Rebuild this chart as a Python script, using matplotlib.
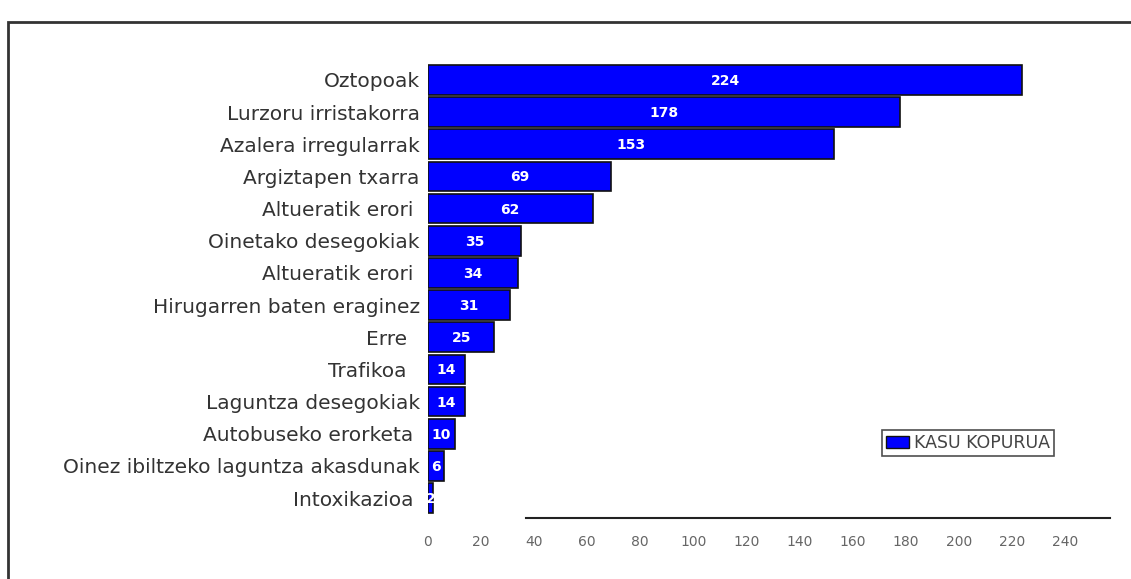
import matplotlib as mpl
mpl.use("Agg")
import matplotlib.pyplot as plt
from matplotlib.patches import Rectangle, Patch
import numpy as np

categorias = [
    "Oztopoak",
    "Lurzoru irristakorra",
    "Azalera irregularrak",
    "Argiztapen txarra",
    "Altueratik erori ",
    "Oinetako desegokiak",
    "Altueratik erori ",
    "Hirugarren baten eraginez",
    "Erre  ",
    "Trafikoa  ",
    "Laguntza desegokiak",
    "Autobuseko erorketa ",
    "Oinez ibiltzeko laguntza akasdunak",
    "Intoxikazioa ",
]
kasuak = [224, 178, 153, 69, 62, 35, 34, 31, 25, 14, 14, 10, 6, 2]
ticks_x = list(range(0, 260, 20))

W, H = 1131, 579
fig = plt.figure(figsize=(W / 100, H / 100), dpi=100)
fig.patch.set_facecolor("white")

# marco exterior
fig.patches.append(Rectangle((8 / W, -0.01), 1.05, 1 - 22 / H + 0.01,
                             transform=fig.transFigure, fill=False,
                             edgecolor="#333333", linewidth=2))

left, right = 428 / W, 1110 / W
top, bottom = 1 - 60 / H, 1 - 518 / H
ax = fig.add_axes([left, bottom, right - left, top - bottom])

y = np.arange(len(categorias))
bars = ax.barh(y, kasuak, height=0.92, color="#0000ff", edgecolor="#111111",
               linewidth=1.2, label="KASU KOPURUA")

for b, v in zip(bars, kasuak):
    ax.text(b.get_width() / 2, b.get_y() + b.get_height() / 2 + 0.03, str(v),
            ha="center", va="center", color="white", fontsize=10,
            fontweight="bold")

ax.set_xlim(0, 257)
ax.set_ylim(len(categorias) - 1 + 0.62, -0.62)
ax.set_yticks(y)
ax.set_yticklabels(categorias, fontsize=14.5, color="#333333")
ax.set_xticks(ticks_x)
ax.set_xticklabels([str(t) for t in ticks_x], fontsize=10, color="#666666")
ax.tick_params(axis="both", length=0)
ax.tick_params(axis="y", pad=6)
ax.tick_params(axis="x", pad=12)

for s in ["top", "right", "left"]:
    ax.spines[s].set_visible(False)
ax.spines["bottom"].set_bounds(37, 257)
ax.spines["bottom"].set_linewidth(1.5)
ax.spines["bottom"].set_color("#222222")

leg = ax.legend(handles=[Patch(facecolor="#0000ff", edgecolor="#111111",
                               label="KASU KOPURUA")],
                loc="lower left", bbox_to_anchor=((873 - 428) / 682, (518 - 465) / 458),
                frameon=True, fancybox=False, fontsize=12.5, handlelength=1.3,
                handleheight=0.7, handletextpad=0.3, borderpad=0.25,
                labelcolor="#444444")
leg.get_frame().set_edgecolor("#222222")
leg.get_frame().set_linewidth(1.2)

fig.savefig("out.png", dpi=100)
